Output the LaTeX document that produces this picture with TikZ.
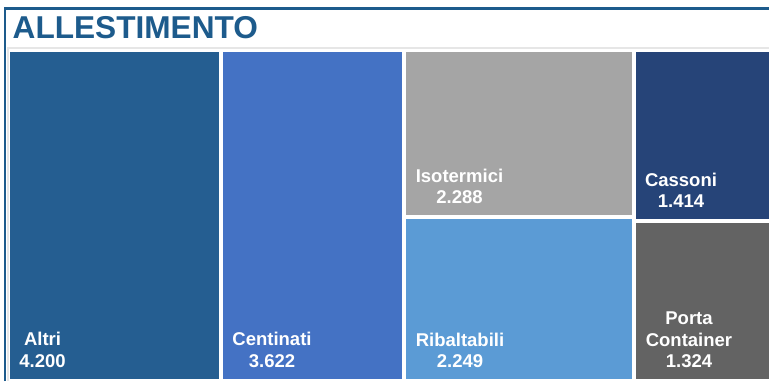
\documentclass[tikz,border=0pt]{standalone}
\usepackage{fontspec}
\setmainfont{Liberation Sans}
\definecolor{frameblue}{HTML}{1D5B8C}
\definecolor{cAltri}{HTML}{255E91}
\definecolor{cCent}{HTML}{4472C4}
\definecolor{cIso}{HTML}{A5A5A5}
\definecolor{cRib}{HTML}{5B9BD5}
\definecolor{cCass}{HTML}{264478}
\definecolor{cPorta}{HTML}{636363}
\definecolor{lightline}{HTML}{E6E6E6}
\tikzset{
  lbl/.style={anchor=base, text=white, font=\bfseries\fontsize{18.5pt}{22pt}\selectfont, inner sep=0pt},
  ttl/.style={anchor=base west, text=frameblue, font=\bfseries\fontsize{31.6pt}{36pt}\selectfont, inner sep=0pt}
}
\begin{document}
\begin{tikzpicture}[x=1pt,y=-1pt]
\useasboundingbox (0,0) rectangle (769,381);
\fill[white] (0,0) rectangle (769,381);
% frame
\draw[lightline, line width=1.2pt] (8,381) -- (8,48) -- (769,48);
\draw[frameblue, line width=2.6pt] (5,381) -- (5,8.5) -- (769,8.5);
\node[ttl] (title) at (12.5,38) {ALLESTIMENTO};
% tiles
\fill[cAltri] (10,52) rectangle (219,379);
\fill[cCent] (223,52) rectangle (402,379);
\fill[cIso] (406,52) rectangle (632,215);
\fill[cRib] (406,219) rectangle (632,379);
\fill[cCass] (636,52) rectangle (769,219);
\fill[cPorta] (636,223) rectangle (769,379);
% labels
\node[lbl] (altri) at (42.5,345) {Altri};
\node[lbl] (altriv) at (42.5,367) {4.200};
\node[lbl] (cent) at (272,345) {Centinati};
\node[lbl] (centv) at (272,367) {3.622};
\node[lbl] (iso) at (459.5,182) {Isotermici};
\node[lbl] (isov) at (459.5,203) {2.288};
\node[lbl] (rib) at (460,346) {Ribaltabili};
\node[lbl] (ribv) at (460,367) {2.249};
\node[lbl] (cass) at (681,186) {Cassoni};
\node[lbl] (cassv) at (681,207) {1.414};
\node[lbl] (porta) at (689,324) {Porta};
\node[lbl] (cont) at (689,346) {Container};
\node[lbl] (contv) at (689,367) {1.324};
\end{tikzpicture}
\end{document}
